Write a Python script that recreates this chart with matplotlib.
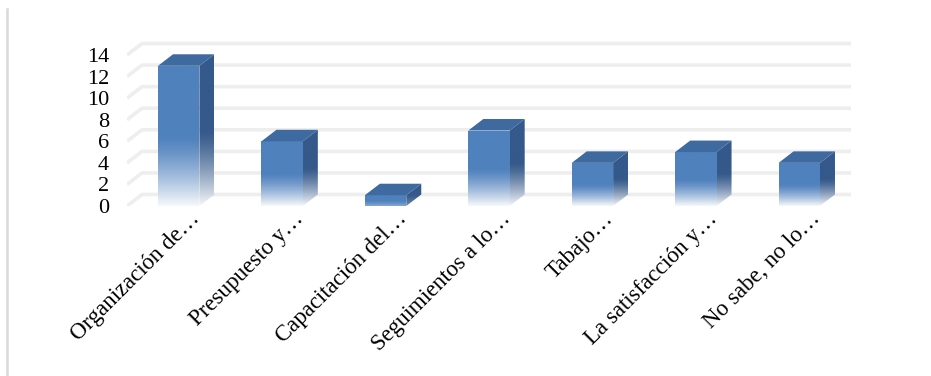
import numpy as np
import matplotlib
matplotlib.use('Agg')
import matplotlib.pyplot as plt
from matplotlib.patches import Polygon
from matplotlib.lines import Line2D
from matplotlib.colors import to_rgb
from matplotlib.transforms import ScaledTranslation

categories = ['Organización de…', 'Presupuesto y…', 'Capacitación del…',
              'Seguimientos a lo…', 'Tabajo…', 'La satisfacción y…', 'No sabe, no lo…']
values = [13, 6, 1, 7, 4, 5, 4]
yticks = [0, 2, 4, 6, 8, 10, 12, 14]

FRONT = '#4f81bd'; SIDE = '#34598a'; TOP = '#3e6a9f'; GRID = '#eeeeee'
plt.rcParams['font.family'] = ['Liberation Serif', 'DejaVu Serif']

W, H = 931, 376
fig = plt.figure(figsize=(W/100, H/100), dpi=100)
n = len(values)
px_x = 724 / n          # pixels per category
px_y = 151 / 14         # pixels per unit
ymax = 15.5
ax = fig.add_axes([127/W, (H-206)/H, 724/W, ymax*px_y/H])
ax.set_xlim(-0.5, n-0.5); ax.set_ylim(0, ymax)
for s in ax.spines.values(): s.set_visible(False)

dx = 15 / px_x; dy = 11.5 / px_y; bw = 0.40

# back wall gridlines with perspective stub
for v in yticks:
    ax.plot([-0.5, -0.5+dx, n-0.5+dx], [v, v+dy, v+dy], color=GRID, lw=2.6,
            solid_capstyle='butt', zorder=0)

def shade(color, v, steps=200):
    y = np.linspace(0, 1, steps)
    strength = min(1.0, v/3) * 0.95
    t = np.where(y >= 0.5, 1.0, 1 - strength*(1 - y/0.5)**1.3)
    rgb = np.array(to_rgb(color))
    img = rgb[None, :]*t[:, None] + (1 - t[:, None])
    return img[:, None, :]

for i, v in enumerate(values):
    x0, x1 = i - bw/2, i + bw/2
    front = Polygon([(x0, 0), (x1, 0), (x1, v), (x0, v)], closed=True,
                    fc='none', ec='none', zorder=2)
    ax.add_patch(front)
    im = ax.imshow(shade(FRONT, v), extent=[x0, x1, 0, v], origin='lower',
                   aspect='auto', interpolation='bilinear', zorder=2)
    im.set_clip_path(front)
    side = Polygon([(x1, 0), (x1+dx, dy), (x1+dx, v+dy), (x1, v)], closed=True,
                   fc='none', ec='none', zorder=2)
    ax.add_patch(side)
    im2 = ax.imshow(shade(SIDE, v), extent=[x1, x1+dx, 0, v+dy], origin='lower',
                    aspect='auto', interpolation='bilinear', zorder=2)
    im2.set_clip_path(side)
    ax.add_patch(Polygon([(x0, v), (x1, v), (x1+dx, v+dy), (x0+dx, v+dy)],
                         closed=True, fc=TOP, ec='none', zorder=3))

ax.set_xlim(-0.5, n-0.5); ax.set_ylim(0, ymax)
ax.set_yticks(yticks)
ax.set_yticklabels([str(v) for v in yticks], fontsize=16)
ax.set_xticks(range(n))
ax.set_xticklabels(categories, fontsize=16.5, rotation=45, ha='right',
                   va='center', rotation_mode='anchor')
ax.tick_params(axis='y', length=0, pad=13)
ax.tick_params(axis='x', length=0, pad=7)
shift = ScaledTranslation(18/100, 0, fig.dpi_scale_trans)
for lab in ax.get_xticklabels():
    lab.set_transform(lab.get_transform() + shift)

fig.add_artist(Line2D([7/W, 7/W], [0, 1 - 9/H], color='#d9d9d9', lw=1.8))

fig.savefig('out.png', dpi=100, facecolor='white')
